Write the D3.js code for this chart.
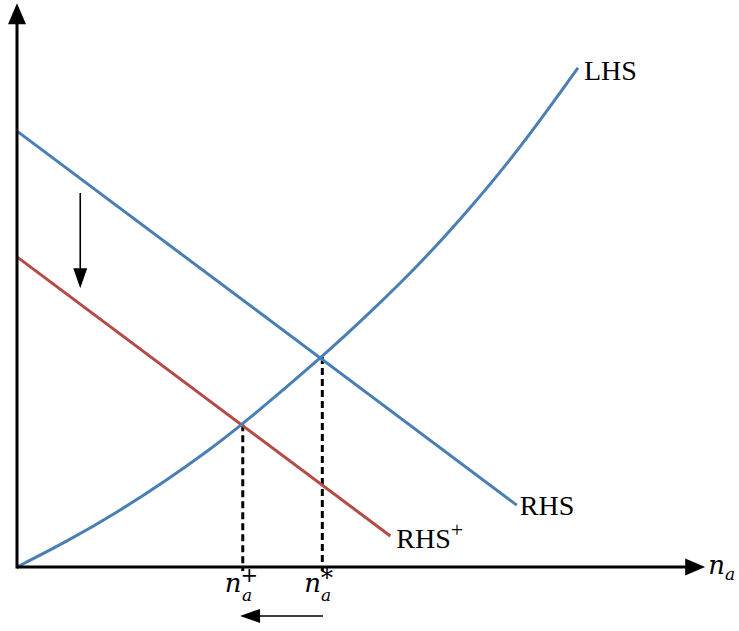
<!DOCTYPE html>
<html>
<head>
<meta charset="utf-8">
<script src="https://cdn.jsdelivr.net/npm/d3@7"></script>
<style>
  body { margin: 0; background: #fff; }
  svg { display: block; }
  text { font-family: "Liberation Serif", "DejaVu Serif", serif; fill: #000; }
</style>
</head>
<body>
<div id="chart"></div>
<script>
// curve values (x, y in diagram units)
const lhsX = [0, 0.735, 1.47, 2.21, 2.84, 3.32, 4.49, 5.19, 5.93, 6.66, 7.37, 8.25];
const lhsY = [0, 0.376, 0.80, 1.28, 1.73, 2.10, 3.09, 3.74, 4.46, 5.27, 6.12, 7.34];

const rhsX = [0, 7.35];
const rhsY = [6.41, 0.91];

const rhsPlusX = [0, 5.49];
const rhsPlusY = [4.56, 0.456];

// equilibrium points (n_a^+ and n_a^*)
const eqX = [3.32, 4.49];
const eqY = [2.10, 3.09];
const eqLabels = ["+", "*"];

const width = 739, height = 631;
const blue = "#4a7fb6", red = "#b64a45";

const svg = d3.select("#chart").append("svg")
  .attr("width", width)
  .attr("height", height);

const x = d3.scaleLinear().domain([0, 10]).range([17, 697]);
const y = d3.scaleLinear().domain([0, 8]).range([567, 23]);

const zip = (xs, ys) => xs.map((v, i) => [v, ys[i]]);

const line = d3.line()
  .x(d => x(d[0]))
  .y(d => y(d[1]));

const smooth = d3.line()
  .x(d => x(d[0]))
  .y(d => y(d[1]))
  .curve(d3.curveBasis);

// dashed drop lines
svg.selectAll(".drop")
  .data(eqX)
  .enter()
  .append("line")
  .attr("x1", d => x(d))
  .attr("x2", d => x(d))
  .attr("y1", (d, i) => y(eqY[i]))
  .attr("y2", y(0) + 4)
  .attr("stroke", "#000")
  .attr("stroke-width", 3)
  .attr("stroke-dasharray", "7,4");

// RHS, RHS+ and LHS
svg.append("path")
  .attr("d", line(zip(rhsX, rhsY)))
  .attr("fill", "none")
  .attr("stroke", blue)
  .attr("stroke-width", 3);

svg.append("path")
  .attr("d", line(zip(rhsPlusX, rhsPlusY)))
  .attr("fill", "none")
  .attr("stroke", red)
  .attr("stroke-width", 3);

svg.append("path")
  .attr("d", smooth(zip(lhsX, lhsY)))
  .attr("fill", "none")
  .attr("stroke", blue)
  .attr("stroke-width", 3);

// axes with arrow heads
const xEnd = 10.12, yEnd = 8.29;
svg.append("line")
  .attr("x1", x(0)).attr("y1", y(0))
  .attr("x2", x(xEnd) - 18).attr("y2", y(0))
  .attr("stroke", "#000").attr("stroke-width", 3);
svg.append("line")
  .attr("x1", x(0)).attr("y1", y(0) + 1.5)
  .attr("x2", x(0)).attr("y2", y(yEnd) + 18)
  .attr("stroke", "#000").attr("stroke-width", 3);

function arrowHead(tx, ty, dir, len, half) {
  // dir: unit vector pointing at the tip
  const bx = tx - dir[0] * len, by = ty - dir[1] * len;
  const px = -dir[1] * half, py = dir[0] * half;
  svg.append("path")
    .attr("d", `M${tx},${ty}L${bx + px},${by + py}L${bx - px},${by - py}Z`)
    .attr("fill", "#000");
}
arrowHead(x(xEnd), y(0), [1, 0], 20, 8.5);
arrowHead(x(0), y(yEnd), [0, -1], 21, 9);

// shift arrows
const downArrow = { x: 0.93, y1: 5.5, y2: 4.10 };
svg.append("line")
  .attr("x1", x(downArrow.x)).attr("x2", x(downArrow.x))
  .attr("y1", y(downArrow.y1)).attr("y2", y(downArrow.y2) - 15)
  .attr("stroke", "#000").attr("stroke-width", 1.6);
arrowHead(x(downArrow.x), y(downArrow.y2), [0, 1], 20, 7);

const leftArrow = { y: -0.72, x1: 4.5, x2: 3.28 };
svg.append("line")
  .attr("x1", x(leftArrow.x1)).attr("x2", x(leftArrow.x2) + 15)
  .attr("y1", y(leftArrow.y)).attr("y2", y(leftArrow.y))
  .attr("stroke", "#000").attr("stroke-width", 1.6);
arrowHead(x(leftArrow.x2), y(leftArrow.y), [-1, 0], 20, 7);

// curve labels
const fs = 28;
svg.append("text")
  .attr("x", x(lhsX[lhsX.length - 1]) + 6)
  .attr("y", y(lhsY[lhsY.length - 1]) + 12)
  .style("font-size", fs + "px")
  .text("LHS");

svg.append("text")
  .attr("x", x(rhsX[1]) + 3)
  .attr("y", y(rhsY[1]) + 10)
  .style("font-size", fs + "px")
  .text("RHS");

const rp = svg.append("text")
  .attr("x", x(rhsPlusX[1]) + 6)
  .attr("y", y(rhsPlusY[1]) + 12)
  .style("font-size", fs + "px");
rp.append("tspan").text("RHS");
rp.append("tspan").attr("dy", -11).style("font-size", "22px").text("+");

// n_a labels
function mathN(tx, ty, sup) {
  const t = svg.append("text")
    .attr("x", tx)
    .attr("y", ty)
    .style("font-family", "'DejaVu Serif', serif")
    .style("font-size", "26px")
    .style("font-style", "italic");
  t.append("tspan").text("n");
  if (sup) {
    const star = sup === "*";
    t.append("tspan").attr("dy", star ? -6 : -10).attr("dx", star ? 0 : -1)
      .style("font-size", star ? "24px" : "21px")
      .style("font-style", "normal").text(sup);
    t.append("tspan").attr("dy", star ? 15 : 19).attr("dx", star ? -12 : -16)
      .style("font-size", "17px").text("a");
  } else {
    t.append("tspan").attr("dy", 6).style("font-size", "17px").text("a");
  }
  return t;
}

mathN(x(xEnd) + 3, y(0) + 7, null);
eqX.forEach((v, i) => {
  mathN(x(v) - 18, y(0) + 25, eqLabels[i]);
});
</script>
</body>
</html>
